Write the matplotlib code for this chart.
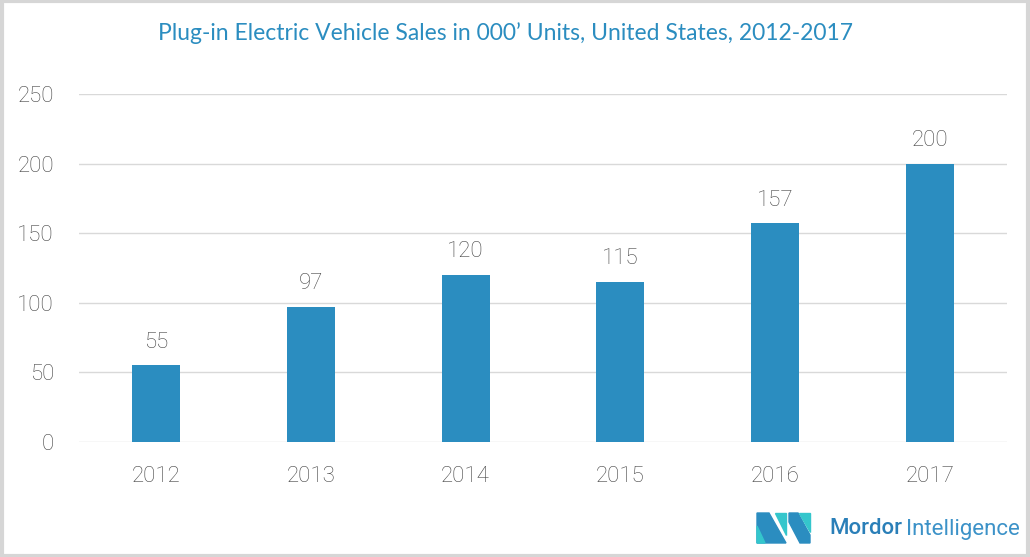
import matplotlib.pyplot as plt
from matplotlib.patches import Polygon, Rectangle

years = ['2012', '2013', '2014', '2015', '2016', '2017']
sales = [55, 97, 120, 115, 157, 200]
yticks = [0, 50, 100, 150, 200, 250]

bar_color = '#2B8DC0'
text_gray = '#444444'
title_blue = '#2B8DC0'

fig = plt.figure(figsize=(10.30, 5.57), dpi=100)
ax = fig.add_axes([79/1030, 1 - 442/557, 928/1030, 348/557])

x = range(len(years))
bars = ax.bar(x, sales, width=0.31, color=bar_color, zorder=3)
for xi, v in zip(x, sales):
    ax.annotate(str(v), (xi, v), xytext=(0, 9), textcoords='offset points',
                ha='center', va='bottom', fontsize=16, color=text_gray,
                family='Roboto', weight='light')

ax.set_xlim(-0.5, len(years) - 0.5)
ax.set_ylim(0, 250)
ax.set_yticks(yticks)
ax.set_xticks(list(x))
ax.set_xticklabels(years)
ax.grid(axis='y', color='#D9D9D9', linewidth=1, zorder=0)
for s in ax.spines.values():
    s.set_visible(False)
ax.tick_params(length=0, labelsize=16, colors=text_gray)
ax.tick_params(axis='x', pad=17)
ax.tick_params(axis='y', pad=18)
for lab in ax.get_xticklabels() + ax.get_yticklabels():
    lab.set_family('Roboto')
    lab.set_weight('light')

fig.text(506/1030, 1 - 33/557, "Plug-in Electric Vehicle Sales in 000\u2019 Units, United States, 2012-2017",
         ha='center', va='center', fontsize=16.5, color=title_blue, family='Lato')

# frame around the figure
fig.add_artist(Rectangle((0.0015, 0.0025), 0.997, 0.995, transform=fig.transFigure,
                         fill=False, edgecolor='#D6D6D6', linewidth=3))

# logo
def fx(px):
    return px / 1030
def fy(py):
    return 1 - py / 557
logo = [
    ([(757, 513), (769, 513), (786, 543), (757, 543)], '#2B8DC0'),
    ([(757, 526), (765, 543), (757, 543)], '#34C6CC'),
    ([(775, 513), (786, 513), (786, 535)], '#34C6CC'),
    ([(789, 513), (798, 513), (810, 535), (810, 543), (800, 543), (789, 522)], '#2B8DC0'),
    ([(799, 513), (810, 513), (810, 532)], '#34C6CC'),
]
for pts, c in logo:
    fig.add_artist(Polygon([(fx(a), fy(b)) for a, b in pts], closed=True,
                           transform=fig.transFigure, color=c))
fig.text(fx(829), fy(529), 'Mordor', ha='left', va='center', fontsize=16,
         color='#2A7FB8', family='Roboto', weight='medium')
fig.text(fx(906), fy(529), 'Intelligence', ha='left', va='center', fontsize=16,
         color='#3C92C8', family='Roboto')

fig.savefig('out.png', dpi=100)
